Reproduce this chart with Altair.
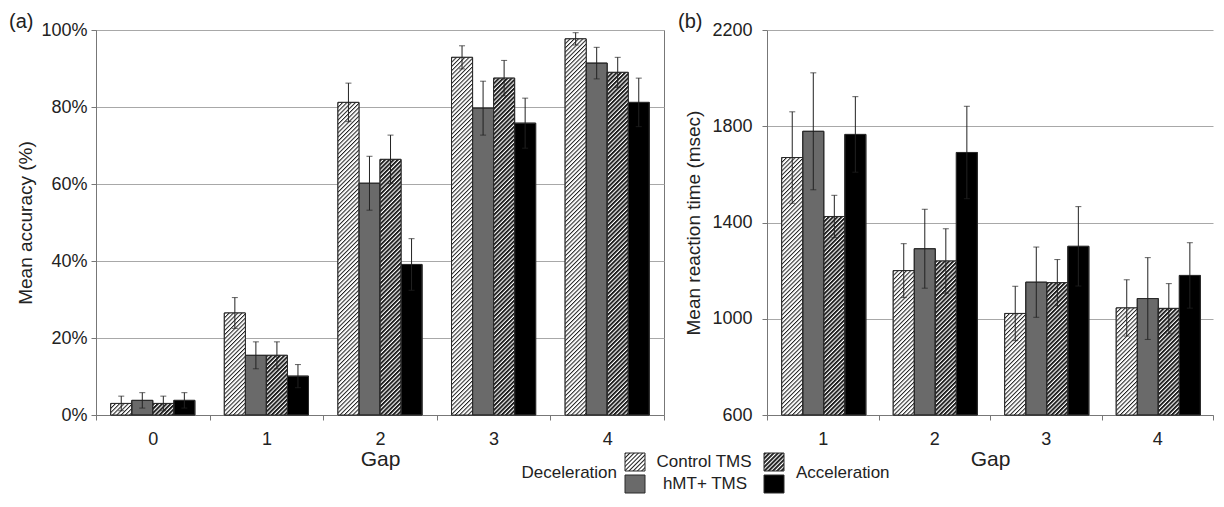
import base64
import altair as alt
import pandas as pd

# ---------------- data ----------------
series = ["Control TMS", "hMT+ TMS", "Acceleration", "Deceleration"]

gaps_acc = ["0", "1", "2", "3", "4"]
acc_control = [3.0, 26.5, 81.2, 92.9, 97.7]
acc_hmt = [3.8, 15.5, 60.2, 79.7, 91.4]
acc_accel = [3.0, 15.5, 66.4, 87.5, 89.0]
acc_decel = [3.8, 10.1, 39.1, 75.8, 81.2]
acc_err_control = [1.9, 4.0, 5.0, 3.0, 1.6]
acc_err_hmt = [2.0, 3.5, 7.0, 7.0, 4.1]
acc_err_accel = [1.9, 3.5, 6.3, 4.6, 3.9]
acc_err_decel = [2.0, 3.0, 6.7, 6.5, 6.3]
acc_ticks = [0, 20, 40, 60, 80, 100]

gaps_rt = ["1", "2", "3", "4"]
rt_control = [1670, 1200, 1022, 1045]
rt_hmt = [1779, 1291, 1152, 1084]
rt_accel = [1425, 1240, 1150, 1043]
rt_decel = [1766, 1691, 1301, 1180]
rt_err_control = [190, 112, 113, 117]
rt_err_hmt = [243, 164, 146, 170]
rt_err_accel = [88, 134, 96, 103]
rt_err_decel = [157, 192, 165, 136]
rt_ticks = [600, 1000, 1400, 1800, 2200]

# legend layout (legend units, measured from the top-left of the legend area)
legend_series = ["Control TMS", "hMT+ TMS", "Acceleration", "Deceleration"]
legend_box_x = [529, 529, 668, 668]
legend_box_y = [0, 22, 0, 22]
legend_center_text = ["Control TMS", "hMT+ TMS"]
legend_center_x = [608, 609]
legend_center_y = [9, 31]
legend_side_text = ["Acceleration", "Deceleration"]
legend_side_x = [700, 521]
legend_side_y = [20, 20]

FONT = "Liberation Sans"
INK = "#222222"
AXIS = "#777777"


def long_table(gaps, means, errs):
    rows = []
    for s, m, e in zip(series, means, errs):
        for g, v, er in zip(gaps, m, e):
            rows.append({"Gap": g, "Series": s, "Value": v, "Err": er})
    return pd.DataFrame(rows)


df_acc = long_table(gaps_acc, [acc_control, acc_hmt, acc_accel, acc_decel],
                    [acc_err_control, acc_err_hmt, acc_err_accel, acc_err_decel])
df_rt = long_table(gaps_rt, [rt_control, rt_hmt, rt_accel, rt_decel],
                   [rt_err_control, rt_err_hmt, rt_err_accel, rt_err_decel])


def hatch(period, line):
    svg = (
        '<svg xmlns="http://www.w3.org/2000/svg" width="100%" height="100%">'
        f'<defs><pattern id="h" patternUnits="userSpaceOnUse" width="{period}" height="{period}" '
        'patternTransform="rotate(45)">'
        f'<rect width="{period}" height="{period}" fill="#ffffff"/>'
        f'<rect width="{line}" height="{period}" fill="#1e1e1e"/></pattern></defs>'
        '<rect width="100%" height="100%" fill="url(#h)"/></svg>'
    )
    return "data:image/svg+xml;base64," + base64.b64encode(svg.encode()).decode()


LIGHT = hatch(3.0, 1.0)
DARK = hatch(3.0, 1.9)

fill_scale = alt.Scale(domain=series, range=["#ffffff", "#6a6a6a", "#ffffff", "#000000"])


def panel(df, gaps, ydomain, yticks, ytitle, label_expr, tag, dx, width,
          label_pad, title_pad, stroke):
    yaxis = alt.Axis(values=yticks, labelExpr=label_expr, grid=True, gridColor="#a8a8a8",
                     domainColor=AXIS, tickColor=AXIS, tickSize=5, labelPadding=label_pad,
                     titlePadding=title_pad, labelFontSize=18, titleFontSize=19,
                     titleFontWeight="normal", labelColor=INK, titleColor=INK)
    ysc = alt.Scale(domain=ydomain, zero=False, nice=False)
    base_value = alt.datum(ydomain[0])

    def Y(field):
        return alt.Y(field, type="quantitative", scale=ysc, axis=yaxis, title=ytitle)

    base = alt.Chart(df).transform_calculate(
        Lo="datum.Value - datum.Err", Hi="datum.Value + datum.Err"
    ).encode(
        x=alt.X("Gap:N", sort=gaps, scale=alt.Scale(paddingInner=0, paddingOuter=0),
                axis=alt.Axis(title="Gap", labelAngle=0, tickBand="extent", tickSize=5,
                              domainColor=AXIS, tickColor=AXIS, labelPadding=10,
                              labelFontSize=18, titleFontSize=21, titleFontWeight="normal",
                              titlePadding=0, labelColor=INK, titleColor=INK, grid=False)),
        xOffset=alt.XOffset("Series:N", sort=series,
                            scale=alt.Scale(domain=series, paddingInner=0, paddingOuter=0.7)),
    )
    bars = base.mark_bar(stroke="#2a2a2a", strokeWidth=1).encode(
        y=Y("Value"), y2=base_value, fill=alt.Fill("Series:N", scale=fill_scale, legend=None))
    light = base.transform_filter(alt.datum.Series == "Control TMS").mark_image(
        aspect=False).encode(y=Y("Value"), y2=base_value, url=alt.value(LIGHT))
    dark = base.transform_filter(alt.datum.Series == "Acceleration").mark_image(
        aspect=False).encode(y=Y("Value"), y2=base_value, url=alt.value(DARK))
    outline = base.mark_bar(fillOpacity=0, stroke="#2a2a2a", strokeWidth=1).encode(
        y=Y("Value"), y2=base_value)
    rule = base.mark_rule(color=INK, strokeWidth=1).encode(y=Y("Lo"), y2="Hi:Q")
    cap_hi = base.mark_tick(color=INK, size=6, thickness=1, orient="horizontal").encode(y=Y("Hi"))
    cap_lo = base.mark_tick(color=INK, size=6, thickness=1, orient="horizontal").encode(y=Y("Lo"))
    return alt.layer(bars, light, dark, outline, rule, cap_hi, cap_lo).properties(
        width=width, height=385,
        title=alt.TitleParams(tag, anchor="start", frame="group", dx=dx, offset=-11,
                              fontSize=20, fontWeight="normal", color=INK, font=FONT),
        view=alt.ViewBackground(stroke=stroke, strokeWidth=1),
    )


chart_a = panel(df_acc, gaps_acc, [0, 100], acc_ticks, "Mean accuracy (%)",
                "datum.value + '%'", "(a)", -87, 568, 4, 5.5, AXIS)
chart_b = panel(df_rt, gaps_rt, [600, 2200], rt_ticks, "Mean reaction time (msec)",
                "'' + datum.value", "(b)", -89, 446, 10, 8.5, "transparent")

# ---------------- legend ----------------
LW, LH = 1000, 40
leg_df = pd.DataFrame({"Series": legend_series, "x0": legend_box_x, "y0": legend_box_y})
lx = alt.Scale(domain=[0, LW], nice=False, zero=False)
ly = alt.Scale(domain=[LH, 0], nice=False, zero=False)
lbase = alt.Chart(leg_df).transform_calculate(
    x1="datum.x0 + 20", y1="datum.y0 + 18"
).encode(
    x=alt.X("x0:Q", scale=lx, axis=None), x2="x1:Q",
    y=alt.Y("y0:Q", scale=ly, axis=None), y2="y1:Q",
)
l_fill = lbase.mark_rect().encode(fill=alt.Fill("Series:N", scale=fill_scale, legend=None))
l_light = lbase.transform_filter(alt.datum.Series == "Control TMS").mark_image(
    aspect=False).encode(url=alt.value(LIGHT))
l_dark = lbase.transform_filter(alt.datum.Series == "Acceleration").mark_image(
    aspect=False).encode(url=alt.value(DARK))
l_out = lbase.mark_rect(fillOpacity=0, stroke="#2a2a2a", strokeWidth=1)

txt_df = pd.DataFrame({"t": legend_center_text, "tx": legend_center_x, "ty": legend_center_y})
l_txt = alt.Chart(txt_df).mark_text(fontSize=17, color=INK, align="center", baseline="middle",
                                    font=FONT).encode(
    x=alt.X("tx:Q", scale=lx, axis=None), y=alt.Y("ty:Q", scale=ly, axis=None), text="t:N")
side_df = pd.DataFrame({"t": legend_side_text, "tx": legend_side_x, "ty": legend_side_y})
l_acc = alt.Chart(side_df).transform_filter(alt.datum.t == "Acceleration").mark_text(
    fontSize=17, color=INK, align="left", baseline="middle", font=FONT).encode(
    x=alt.X("tx:Q", scale=lx, axis=None), y=alt.Y("ty:Q", scale=ly, axis=None), text="t:N")
l_dec = alt.Chart(side_df).transform_filter(alt.datum.t == "Deceleration").mark_text(
    fontSize=17, color=INK, align="right", baseline="middle", font=FONT).encode(
    x=alt.X("tx:Q", scale=lx, axis=None), y=alt.Y("ty:Q", scale=ly, axis=None), text="t:N")

legend = alt.layer(l_fill, l_light, l_dark, l_out, l_txt, l_acc, l_dec).properties(
    width=LW, height=LH, view=alt.ViewBackground(stroke="transparent"))

top = alt.hconcat(chart_a, chart_b, spacing=103, bounds="flush")
chart = alt.vconcat(top, legend, spacing=423, bounds="flush").properties(
    padding={"left": 0, "top": 3, "right": 0, "bottom": 0}
).configure(font=FONT).configure_view(stroke=AXIS)

chart.save("out.html", embed_options={"renderer": "svg", "actions": False})
